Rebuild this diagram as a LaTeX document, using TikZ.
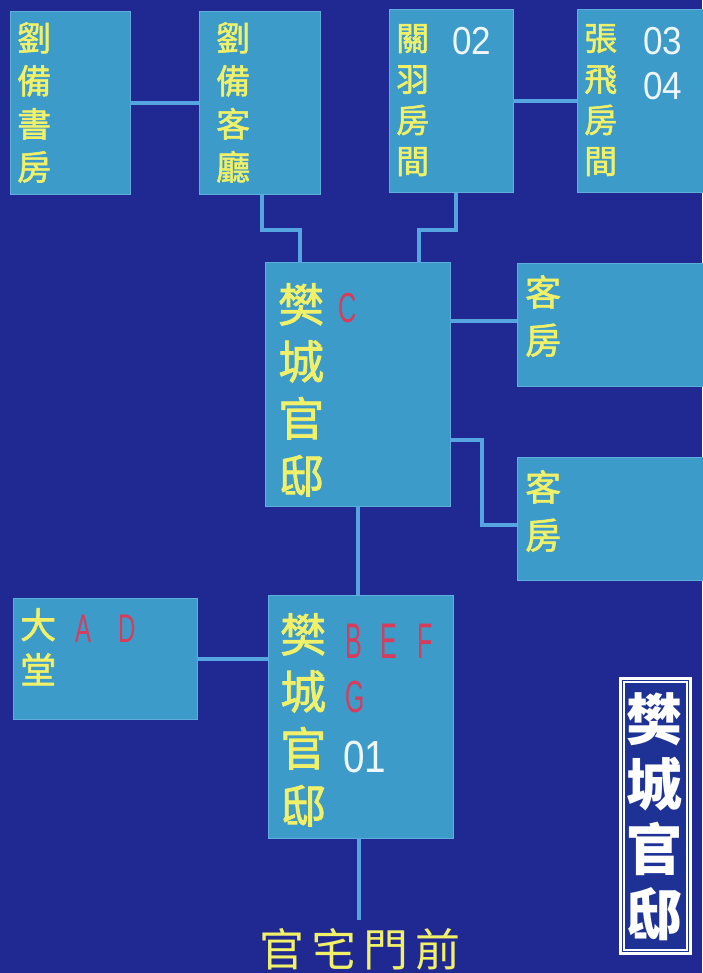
\documentclass[tikz,border=0pt]{standalone}
\usepackage{fontspec}
\newfontfamily\cjk{Noto Sans CJK TC}
\newfontfamily\cjkm[FakeBold=1.6]{Noto Sans CJK TC}
\newfontfamily\lat{Liberation Sans}
\definecolor{bgc}{RGB}{32,40,145}
\definecolor{boxc}{RGB}{60,155,200}
\definecolor{boxedge}{RGB}{95,175,220}
\definecolor{linec}{RGB}{85,165,225}
\definecolor{yel}{RGB}{240,240,105}
\definecolor{redc}{RGB}{215,60,90}
\definecolor{numc}{RGB}{238,246,250}
\definecolor{titlebg}{RGB}{30,50,150}
\begin{document}
\begin{tikzpicture}[x=1pt,y=-1pt,
  room/.style={fill=boxc, draw=boxedge, line width=1pt, inner sep=0pt, outer sep=0pt, anchor=north west},
  conn/.style={draw=linec, line width=4pt},
  yt/.style={text=yel, inner sep=0pt, anchor=north west, align=left},
  numt/.style={text=numc, inner sep=0pt, anchor=base west},
  redl/.style={text=redc, inner sep=0pt, anchor=base west}]
\useasboundingbox (0,0) rectangle (702,973);
\fill[bgc] (0,0) rectangle (702,973);

% rooms
\node[room, minimum width=120pt, minimum height=183pt] (shufang) at (10,12) {};
\node[room, minimum width=121pt, minimum height=183pt] (keting) at (199,12) {};
\node[room, minimum width=124pt, minimum height=183pt] (guanyu) at (389,10) {};
\node[room, minimum width=126pt, minimum height=183pt] (zhangfei) at (577,10) {};
\node[room, minimum width=185pt, minimum height=243pt] (fanC) at (265,263) {};
\node[room, minimum width=186pt, minimum height=122pt] (kefangA) at (517,264) {};
\node[room, minimum width=186pt, minimum height=123pt] (kefangB) at (517,457) {};
\node[room, minimum width=184pt, minimum height=121pt] (datang) at (13,598) {};
\node[room, minimum width=185pt, minimum height=243pt] (fanB) at (268,595) {};

% connectors
\coordinate (jA) at (280,230);
\coordinate (jB) at (438,230);
\coordinate (jC) at (482,480);
\draw[conn] (shufang.east) -- (keting.west);
\draw[conn] (guanyu.east) -- (zhangfei.west);
\draw[conn] ([xshift=63pt]keting.south west) |- (jA) -| ([xshift=35pt]fanC.north west);
\draw[conn] ([xshift=67pt]guanyu.south west) |- (jB) -| ([xshift=154pt]fanC.north west);
\draw[conn] ([yshift=-57pt]kefangA.north west -| fanC.east) -- ([yshift=-57pt]kefangA.north west);
\draw[conn] ([yshift=-177pt]fanC.north east) -| (jC) |- ([yshift=-68pt]kefangB.north west);
\draw[conn] (fanC.south) -- (fanC.south |- fanB.north);
\draw[conn] (datang.east) -- (datang.east -| fanB.west);

% gate
\node[text=yel, inner xsep=0pt, inner ysep=0pt, anchor=north,
      font=\cjk\fontsize{45}{45}\selectfont] (gatetxt) at (360,928)
      {官\hspace{7pt}宅\hspace{7pt}門\hspace{7pt}前};
\coordinate (gate) at (359,920);
\draw[conn] ([xshift=-1.5pt]fanB.south) -- (gate);

% room texts
\node[yt, font=\cjkm\fontsize{34}{43}\selectfont] (t1) at (17,22) {劉\\備\\書\\房};
\node[yt, font=\cjkm\fontsize{34}{43}\selectfont] (t2) at (216,22) {劉\\備\\客\\廳};
\node[yt, font=\cjkm\fontsize{33}{41}\selectfont] (t3) at (396,24) {關\\羽\\房\\間};
\node[yt, font=\cjkm\fontsize{33}{41}\selectfont] (t4) at (584,24) {張\\飛\\房\\間};
\node[numt, font=\lat\fontsize{39}{39}\selectfont] (n02) at (452,55) {\scalebox{0.9}[1]{02}};
\node[numt, font=\lat\fontsize{39}{39}\selectfont] (n03) at (643,55) {\scalebox{0.9}[1]{03}};
\node[numt, font=\lat\fontsize{39}{39}\selectfont] (n04) at (643,100) {\scalebox{0.9}[1]{04}};

\node[yt, font=\cjkm\fontsize{46}{57}\selectfont] (t5) at (278,283) {樊\\城\\官\\邸};
\node[redl, font=\lat\fontsize{42}{42}\selectfont] (lC) at (338,322) {\scalebox{0.6}[1]{C}};

\node[yt, font=\cjkm\fontsize{36}{48}\selectfont] (t6) at (525,275) {客\\房};
\node[yt, font=\cjkm\fontsize{36}{48}\selectfont] (t7) at (525,470) {客\\房};

\node[yt, font=\cjkm\fontsize{36}{45}\selectfont] (t8) at (20,608) {大\\堂};
\node[redl, font=\lat\fontsize{40}{40}\selectfont] (lA) at (75,642) {\scalebox{0.6}[1]{A}};
\node[redl, font=\lat\fontsize{40}{40}\selectfont] (lD) at (118,642) {\scalebox{0.6}[1]{D}};

\node[yt, font=\cjkm\fontsize{46}{57}\selectfont] (t9) at (280,613) {樊\\城\\官\\邸};
\node[redl, font=\lat\fontsize{50}{50}\selectfont] (lB) at (345,658) {\scalebox{0.5}[1]{B}};
\node[redl, font=\lat\fontsize{50}{50}\selectfont] (lE) at (380,658) {\scalebox{0.5}[1]{E}};
\node[redl, font=\lat\fontsize{50}{50}\selectfont] (lF) at (417,658) {\scalebox{0.5}[1]{F}};
\node[redl, font=\lat\fontsize{45}{45}\selectfont] (lG) at (345,712) {\scalebox{0.55}[1]{G}};
\node[numt, font=\lat\fontsize{45}{45}\selectfont] (n01) at (343,772) {\scalebox{0.86}[1]{01}};

% title box
\node[fill=titlebg, draw=white, line width=3pt, inner sep=0pt, anchor=north west,
      minimum width=70pt, minimum height=275pt] (title) at (619,677) {};
\draw[white, line width=1.5pt] ([shift={(5pt,-5pt)}]title.north west) rectangle ([shift={(-5pt,5pt)}]title.south east);
\node[text=white, inner sep=0pt, anchor=north, align=center,
      font=\cjk\bfseries\fontsize{56}{65}\selectfont] (ttext) at (654,692) {樊\\城\\官\\邸};
\end{tikzpicture}
\end{document}
